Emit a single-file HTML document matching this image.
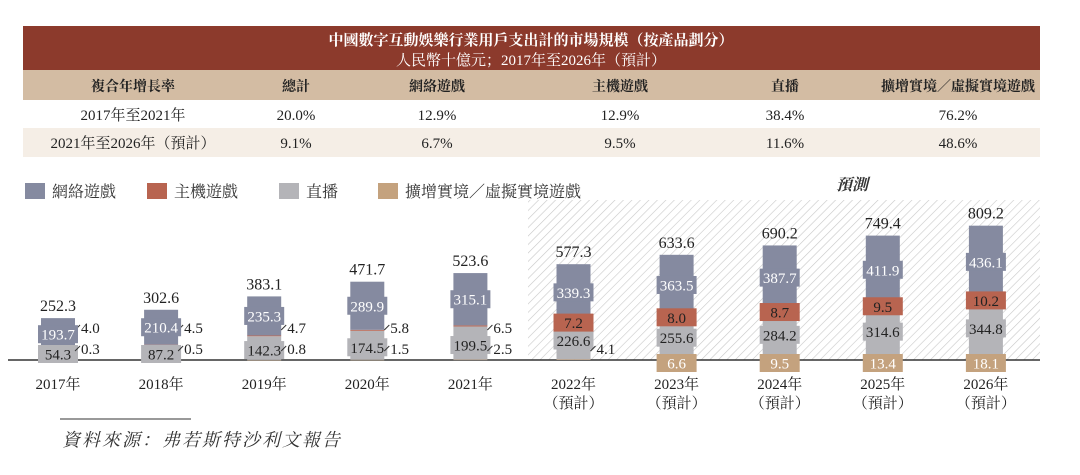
<!DOCTYPE html>
<html><head><meta charset="utf-8">
<style>
body{margin:0;background:#fff;width:1080px;height:470px;overflow:hidden;font-family:"Liberation Serif","Noto Serif CJK SC",serif;}
svg text{font-family:"Liberation Serif","Noto Serif CJK SC",serif;}
</style></head>
<body>
<svg id="c" width="1080" height="470" viewBox="0 0 1080 470" xmlns="http://www.w3.org/2000/svg">
<defs>
<pattern id="hatch" width="6" height="6" patternUnits="userSpaceOnUse" patternTransform="rotate(45)">
<rect width="6" height="6" fill="#fff"/><line x1="0" y1="0" x2="0" y2="6" stroke="#c8c8c8" stroke-width="1.2"/>
</pattern>
</defs>
<g>
<rect x="23" y="26" width="1017" height="44" fill="#8c3a2c"/>
<text x="531" y="45" text-anchor="middle" fill="#fff" font-size="15" font-weight="bold">中國數字互動娛樂行業用戶支出計的市場規模（按產品劃分）</text>
<text x="531" y="65" text-anchor="middle" fill="#fff" font-size="15">人民幣十億元；2017年至2026年（預計）</text>
<rect x="23" y="70" width="1017" height="30" fill="#d3bca3"/>
<rect x="23" y="128" width="1017" height="29" fill="#f5eee6"/>
<g font-size="14" font-weight="bold" fill="#222" text-anchor="middle">
<text x="133" y="91">複合年增長率</text>
<text x="296" y="91">總計</text>
<text x="437" y="91">網絡遊戲</text>
<text x="620" y="91">主機遊戲</text>
<text x="785" y="91">直播</text>
<text x="958" y="91">擴增實境／虛擬實境遊戲</text>
</g>
<g font-size="15" fill="#222" text-anchor="middle">
<text x="133" y="120">2017年至2021年</text>
<text x="296" y="120">20.0%</text>
<text x="437" y="120">12.9%</text>
<text x="620" y="120">12.9%</text>
<text x="785" y="120">38.4%</text>
<text x="958" y="120">76.2%</text>
<text x="133" y="148">2021年至2026年（預計）</text>
<text x="296" y="148">9.1%</text>
<text x="437" y="148">6.7%</text>
<text x="620" y="148">9.5%</text>
<text x="785" y="148">11.6%</text>
<text x="958" y="148">48.6%</text>
</g>
</g>
<g font-size="16" fill="#333">
<rect x="25" y="183" width="20" height="16" fill="#858aa0"/>
<text x="52" y="197">網絡遊戲</text>
<rect x="147" y="183" width="20" height="16" fill="#b86450"/>
<text x="174" y="197">主機遊戲</text>
<rect x="279" y="183" width="20" height="16" fill="#b4b4b8"/>
<text x="306" y="197">直播</text>
<rect x="378" y="183" width="20" height="16" fill="#c4a27e"/>
<text x="405" y="197">擴增實境／虛擬實境遊戲</text>
</g>
<rect x="528" y="200" width="512" height="160" fill="url(#hatch)"/>
<text x="852" y="190" text-anchor="middle" font-size="16" font-weight="bold" font-style="italic" fill="#333">預測</text>
<line x1="8" y1="360" x2="1040" y2="360" stroke="#333" stroke-width="1.5"/>
<g id="bars"></g>
<line x1="60" y1="419" x2="191" y2="419" stroke="#333" stroke-width="1"/>
<text x="62" y="446" font-size="18" font-style="italic" fill="#333" letter-spacing="2">資料來源：弗若斯特沙利文報告</text>
</svg>
<script>
const years = ["2017年","2018年","2019年","2020年","2021年","2022年","2023年","2024年","2025年","2026年"];
const forecast = [false,false,false,false,false,true,true,true,true,true];
const arvr = [0.3,0.5,0.8,1.5,2.5,4.1,6.6,9.5,13.4,18.1];
const live = [54.3,87.2,142.3,174.5,199.5,226.6,255.6,284.2,314.6,344.8];
const consoleG = [4.0,4.5,4.7,5.8,6.5,7.2,8.0,8.7,9.5,10.2];
const online = [193.7,210.4,235.3,289.9,315.1,339.3,363.5,387.7,411.9,436.1];
const totals = [252.3,302.6,383.1,471.7,523.6,577.3,633.6,690.2,749.4,809.2];

const NS="http://www.w3.org/2000/svg";
const base=360, k=0.166, bw=34, lw=40, lh=18;
const xPos=i=>58+i*103.1;
const yPos=v=>base-v*k;
const g=document.getElementById('bars');
function mk(tag,attrs){const e=document.createElementNS(NS,tag);for(const a in attrs)e.setAttribute(a,attrs[a]);g.appendChild(e);return e;}
const series=[
 {vals:arvr,color:"#c4a27e",txt:"#fff",name:"arvr"},
 {vals:live,color:"#b4b4b8",txt:"#222",name:"live"},
 {vals:consoleG,color:"#b86450",txt:"#222",name:"console"},
 {vals:online,color:"#858aa0",txt:"#fff",name:"online"}];
years.forEach((yr,i)=>{
  const cx=xPos(i);
  let cum=0; const mids=[];
  series.forEach(s=>{
    const v=s.vals[i];
    const y0=yPos(cum), y1=yPos(cum+v);
    const r=mk('rect',{x:cx-bw/2,y:y1,width:bw,height:Math.max(y0-y1,0.5),fill:s.color});
    
    
    mids.push((y0+y1)/2); cum+=v;
  });
  const labels=[];
  series.forEach((s,j)=>{
    const v=s.vals[i];
    let inside=true, cy=mids[j];
    if(j===0){ inside = forecast[i] && v>=5; cy=base+3; }
    if(j===1){ cy = forecast[i] ? mids[j] : Math.min(mids[j]+2, base-6); }
    if(j===2){ inside = forecast[i]; cy=mids[j]+1.5; }
    labels.push({s,v,inside,cy});
  });
  // draw order: live, arvr, console, online so boxes layer like reference
  [1,0,2,3].forEach(j=>{
    const {s,v,inside,cy}=labels[j];
    if(inside){
      const b=mk('rect',{x:cx-lw/2,y:cy-lh/2,width:lw,height:lh,fill:s.color});
      
      
      const t=mk('text',{x:cx,y:cy+5.5,'text-anchor':'middle','font-size':15,fill:s.txt});
      
      
      t.textContent=v.toFixed(1);
    } else {
      const ly = j===2 ? 328 : 349;
      const lx = cx+bw/2+6;
      const tk=mk('line',{x1:lx-6,y1:ly+2,x2:lx-1,y2:ly-3,stroke:"#333","stroke-width":1});
      
      
      const t=mk('text',{x:lx,y:ly+5,'font-size':15,fill:"#222"});
      
      
      t.textContent=v.toFixed(1);
    }
  });
  const tt=mk('text',{x:cx,y:yPos(cum)-7,'text-anchor':'middle','font-size':16,fill:"#222"});
  
  
  tt.textContent=totals[i].toFixed(1);
  const yl=mk('text',{x:cx,y:389,'text-anchor':'middle','font-size':15,fill:"#222"});
  
  
  yl.textContent=yr;
  if(forecast[i]){
    const fl=mk('text',{x:cx,y:408,'text-anchor':'middle','font-size':15,fill:"#222"});
    
    
    fl.textContent="（預計）";
  }
});
</script>
</body></html>
